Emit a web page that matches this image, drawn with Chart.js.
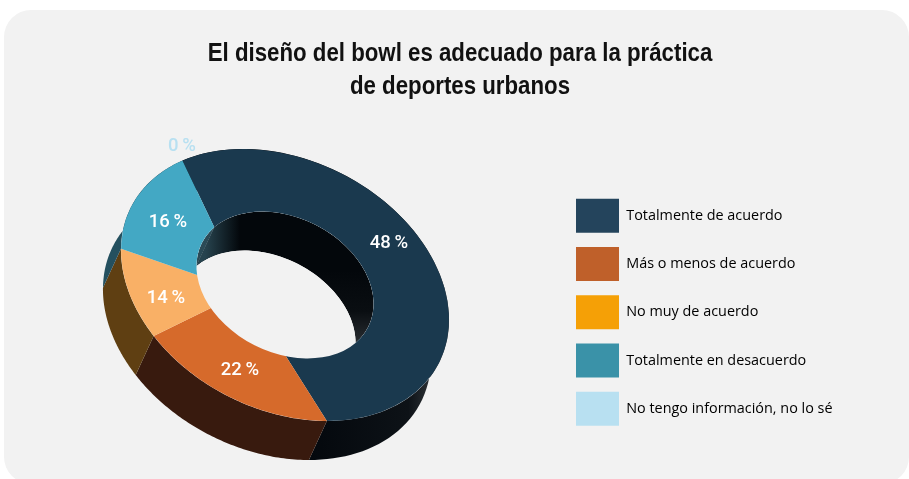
<!DOCTYPE html>
<html lang="es">
<head>
<meta charset="utf-8">
<title>Diseño del bowl</title>
<style>
    html, body { margin: 0; background: #ffffff; overflow: hidden; }
    #panel { position: absolute; left: 4px; top: 10px; width: 905px; height: 474px; background: #f2f2f2; border-radius: 27px; }
    #chart { position: absolute; left: 0; top: 0; }
</style>
<script src="https://cdn.jsdelivr.net/npm/chart.js@4"></script>
</head>
<body>
<div id="panel"></div>
<canvas id="chart" width="909" height="479"></canvas>
<script>
// Data
const categories = ['Totalmente de acuerdo', 'Más o menos de acuerdo', 'No muy de acuerdo', 'Totalmente en desacuerdo', 'No tengo información, no lo sé'];
const percentages = [48, 22, 14, 16, 0];

// Colours
const faceColors = ['#1a394e', '#d66a2b', '#f9b066', '#43a8c4', '#b8e0f1'];
const wallColors = ['#05090e', '#381a0e', '#5f3f12', '#24505f', '#b8e0f1'];
const holeColors = ['#02060a', '#02060a', '#02060a', '#2b4a56', '#02060a'];
const legendColors = ['#24445c', '#bf602a', '#f5a006', '#3a92a8', '#b8e0f1'];
const labelColors = ['#ffffff', '#ffffff', '#ffffff', '#ffffff', '#b8e0f1'];

// Where each percentage sits on the page
const labelX = [389, 240, 166, 168, 182];
const labelY = [243, 370, 298, 222, 146];

// Ring geometry: a tilted ellipse seen from above, extruded down-left
const RING = {
    x: 285, y: 285,
    a: 172.6, b: 125, tilt: 26.8 * Math.PI / 180,
    inner: 0.54,
    apexU: -0.19, apexV: 0.19,
    depthX: -18, depthY: 39
};

// Horizontal squeeze for the title, there is no condensed face installed
const TITLE_SQUEEZE = 0.856;

// ==========================================
// Ring helpers
// ==========================================

// Point where the ray leaving the apex at `angle` hits the circle of radius `r`,
// returned in page coordinates
function ringPoint(r, angle, shift) {
    const dx = Math.cos(angle), dy = Math.sin(angle);
    const dot = RING.apexU * dx + RING.apexV * dy;
    const len2 = RING.apexU * RING.apexU + RING.apexV * RING.apexV;
    const s = -dot + Math.sqrt(dot * dot - len2 + r * r);
    const u = (RING.apexU + s * dx) * RING.a;
    const v = (RING.apexV + s * dy) * RING.b;
    const cos = Math.cos(RING.tilt), sin = Math.sin(RING.tilt);
    return {
        x: RING.x + u * cos - v * sin + (shift ? RING.depthX : 0),
        y: RING.y + u * sin + v * cos + (shift ? RING.depthY : 0)
    };
}

// Side wall of one slice: its edge curve plus the same curve pushed down by the depth
function wallPath(ctx, r, arc) {
    const steps = 80;
    const span = arc.endAngle - arc.startAngle;
    ctx.beginPath();
    for (let i = 0; i <= steps; i++) {
        const p = ringPoint(r, arc.startAngle + span * i / steps, false);
        ctx.lineTo(p.x, p.y);
    }
    for (let i = steps; i >= 0; i--) {
        const p = ringPoint(r, arc.startAngle + span * i / steps, true);
        ctx.lineTo(p.x, p.y);
    }
    ctx.closePath();
}

function ellipsePath(ctx, r, offsetX, offsetY) {
    ctx.moveTo(RING.x + offsetX + RING.a * r * Math.cos(RING.tilt), RING.y + offsetY + RING.a * r * Math.sin(RING.tilt));
    ctx.ellipse(RING.x + offsetX, RING.y + offsetY, RING.a * r, RING.b * r, RING.tilt, 0, Math.PI * 2);
}

function drawWalls(ctx, arcs) {
    // Outer wall, shaded towards the right end of the big slice
    arcs.forEach((arc, i) => {
        if (arc.endAngle - arc.startAngle <= 0) return;
        let fill = wallColors[i];
        if (i === 0) {
            fill = ctx.createLinearGradient(310, 0, 436, 0);
            fill.addColorStop(0, '#04080d');
            fill.addColorStop(0.78, '#0d1217');
            fill.addColorStop(1, '#34383c');
        }
        wallPath(ctx, 1, arc);
        ctx.fillStyle = fill;
        ctx.fill();
    });

    // Inner wall: only what stays above the lower rim of the hole
    ctx.save();
    ctx.beginPath();
    ctx.rect(0, 0, ctx.canvas.width, ctx.canvas.height);
    ellipsePath(ctx, RING.inner, RING.depthX, RING.depthY);
    ctx.clip('evenodd');
    ctx.beginPath();
    ellipsePath(ctx, RING.inner, 0, 0);
    ctx.clip();
    arcs.forEach((arc, i) => {
        if (arc.endAngle - arc.startAngle <= 0) return;
        wallPath(ctx, RING.inner, arc);
        if (i !== 0) {
            ctx.fillStyle = holeColors[i];
            ctx.fill();
            return;
        }
        // Big slice: black in the middle, lighter at both ends of the curve
        const lower = ctx.createLinearGradient(0, 270, 0, 345);
        lower.addColorStop(0, '#03070b');
        lower.addColorStop(0.55, '#0a0e12');
        lower.addColorStop(1, '#2b2f33');
        ctx.fillStyle = lower;
        ctx.fill();
        const left = ctx.createLinearGradient(205, 0, 240, 0);
        left.addColorStop(0, 'rgba(43, 74, 86, 0.9)');
        left.addColorStop(1, 'rgba(43, 74, 86, 0)');
        ctx.fillStyle = left;
        ctx.fill();
    });
    ctx.restore();
}

// ==========================================
// Plugin: tilts the doughnut and adds the 3D walls
// ==========================================

const ringPlugin = {
    id: 'ring3d',
    afterInit(chart) {
        // Narrow the stock title around its own centre
        const block = chart.titleBlock;
        const drawTitle = block.draw;
        block.draw = function () {
            const ctx = this.ctx;
            const mid = (this.left + this.right) / 2;
            ctx.save();
            ctx.translate(mid, 0);
            ctx.scale(TITLE_SQUEEZE, 1);
            ctx.translate(-mid, 0);
            drawTitle.apply(this, arguments);
            ctx.restore();
        };
    },
    beforeDatasetDraw(chart, args) {
        const ctx = chart.ctx;
        const arcs = args.meta.data;
        const first = arcs[0];
        drawWalls(ctx, arcs);

        // Top face: clip to the ring, then send the library's slices through the tilt
        ctx.save();
        ctx.beginPath();
        ellipsePath(ctx, 1, 0, 0);
        ellipsePath(ctx, RING.inner, 0, 0);
        ctx.clip('evenodd');

        const scale = 1.4 / first.outerRadius;
        ctx.translate(RING.x, RING.y);
        ctx.rotate(RING.tilt);
        ctx.scale(RING.a, RING.b);
        ctx.translate(RING.apexU, RING.apexV);
        ctx.scale(scale, scale);
        ctx.translate(-first.x, -first.y);
    },
    afterDatasetDraw(chart) {
        const ctx = chart.ctx;
        ctx.restore();

        ctx.save();
        ctx.font = '500 18.5px Roboto';
        ctx.textAlign = 'center';
        ctx.textBaseline = 'middle';
        percentages.forEach((value, i) => {
            ctx.fillStyle = labelColors[i];
            ctx.fillText(value + '\u2009%', labelX[i], labelY[i]);
        });
        ctx.restore();
    }
};

// ==========================================
// Chart
// ==========================================

new Chart(document.getElementById('chart'), {
    type: 'doughnut',
    plugins: [ringPlugin],
    data: {
        labels: categories,
        datasets: [{
            data: percentages,
            backgroundColor: faceColors,
            borderWidth: 0,
            clip: false
        }]
    },
    options: {
        responsive: false,
        animation: false,
        cutout: '15%',
        rotation: 316.8,
        layout: { padding: { left: 77.5, top: 37, right: 66.5, bottom: 39 } },
        plugins: {
            tooltip: { enabled: false },
            title: {
                display: true,
                text: ['El diseño del bowl es adecuado para la práctica', 'de deportes urbanos'],
                color: '#111111',
                font: { family: '"Liberation Sans"', size: 26, weight: 'bold', lineHeight: 1.27 },
                padding: { top: 0, bottom: 0 }
            },
            legend: {
                position: 'right',
                align: 'end',
                labels: {
                    boxWidth: 43,
                    boxHeight: 34,
                    padding: 14.25,
                    color: '#1c1c1c',
                    font: { family: '"Open Sans"', size: 14.4 },
                    generateLabels: () => categories.map((text, i) => ({
                        text,
                        fillStyle: legendColors[i],
                        strokeStyle: legendColors[i],
                        lineWidth: 0,
                        index: i
                    }))
                }
            }
        }
    }
});
</script>
</body>
</html>
